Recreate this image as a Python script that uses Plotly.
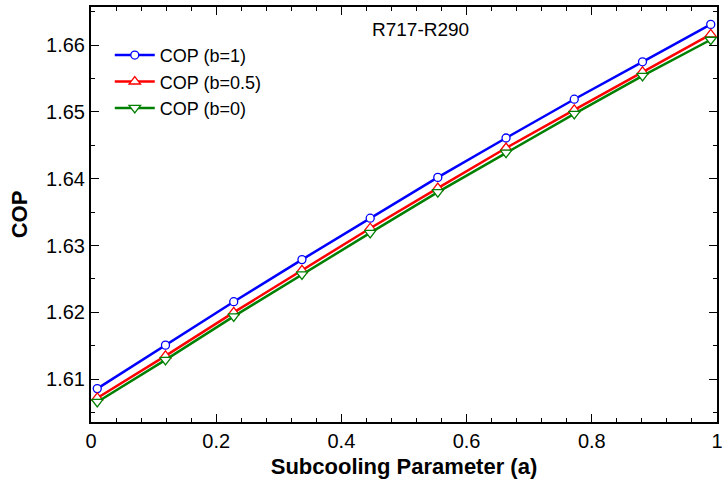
import plotly.graph_objects as go

subcooling_a = [0.01, 0.119, 0.228, 0.337, 0.446, 0.554, 0.663, 0.772, 0.881, 0.99]
cop_b1 = [1.6086, 1.6151, 1.6216, 1.6279, 1.6341, 1.6402, 1.6461, 1.6519, 1.6575, 1.6631]
cop_b05 = [1.6072, 1.6135, 1.6200, 1.6263, 1.6326, 1.6386, 1.6446, 1.6503, 1.6560, 1.6616]
cop_b0 = [1.6066, 1.6129, 1.6194, 1.6257, 1.6319, 1.6380, 1.6439, 1.6497, 1.6554, 1.6608]
series_names = ["COP (b=1)", "COP (b=0.5)", "COP (b=0)"]
title_text = "R717-R290"

FONT = "Arial, Liberation Sans, sans-serif"

fig = go.Figure()
styles = [
    ("#0000FF", "circle", 8),
    ("#FF0000", "triangle-up", 10),
    ("#008000", "triangle-down", 10),
]
for name, ys, (col, sym, sz) in zip(series_names, [cop_b1, cop_b05, cop_b0], styles):
    fig.add_trace(go.Scatter(
        x=subcooling_a, y=ys, name=name, mode="lines+markers",
        line=dict(color=col, width=2.5),
        marker=dict(symbol=sym, size=sz, color="white", line=dict(width=1.3, color=col)),
    ))

axis_common = dict(
    showline=True, linecolor="black", linewidth=2, mirror="ticks",
    ticks="inside", ticklen=8, tickwidth=1.3, tickcolor="black",
    showgrid=False, zeroline=False,
    tickfont=dict(family=FONT, size=20, color="black"),
)

fig.update_layout(
    width=728, height=490,
    margin=dict(l=91, r=6, t=5, b=68),
    paper_bgcolor="white", plot_bgcolor="white",
    font=dict(family=FONT, color="black"),
    showlegend=True,
    legend=dict(
        x=0.03, y=0.928, xanchor="left", yanchor="top",
        bgcolor="rgba(0,0,0,0)", borderwidth=0,
        font=dict(family=FONT, size=18, color="black"),
        tracegroupgap=0, itemwidth=40,
    ),
    annotations=[dict(
        text=title_text, xref="x", yref="paper", x=0.527, y=0.945,
        showarrow=False, xanchor="center", yanchor="middle",
        font=dict(family=FONT, size=19, color="black"),
    )],
)
fig.update_xaxes(
    **axis_common, range=[0, 1],
    tickvals=[0, 0.2, 0.4, 0.6, 0.8, 1], ticktext=["0", "0.2", "0.4", "0.6", "0.8", "1"],
    minor=dict(ticks="inside", ticklen=4, tickcolor="black", dtick=0.04, tick0=0, showgrid=False),
    title=dict(text="<b>Subcooling Parameter (a)</b>", font=dict(family=FONT, size=22, color="black"), standoff=8),
)
fig.update_yaxes(
    **axis_common, range=[1.6036, 1.6657], dtick=0.01, tick0=1.6,
    tickformat=".2f",
    minor=dict(ticks="inside", ticklen=4, tickcolor="black", dtick=0.005, tick0=1.6, showgrid=False),
    title=dict(text="<b>COP</b>", font=dict(family=FONT, size=22, color="black"), standoff=12),
)

fig.write_html("out.html")
